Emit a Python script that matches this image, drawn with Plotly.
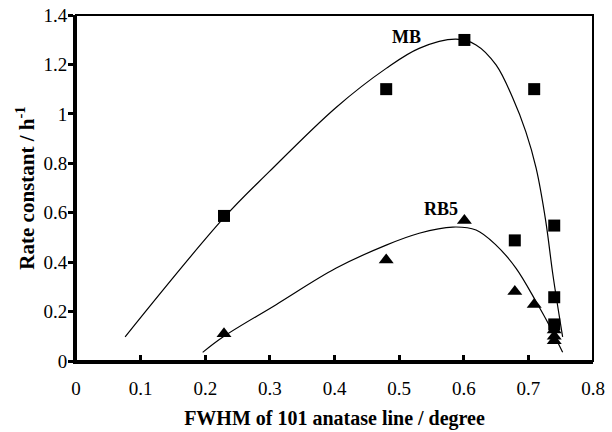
import plotly.graph_objects as go

# Measured data points
mb_x = [0.229, 0.480, 0.601, 0.709, 0.740, 0.679, 0.740, 0.740]
mb_y = [0.587, 1.100, 1.299, 1.100, 0.548, 0.488, 0.258, 0.148]

rb5_x = [0.229, 0.480, 0.601, 0.679, 0.709, 0.740, 0.740, 0.740]
rb5_y = [0.110, 0.409, 0.568, 0.281, 0.229, 0.125, 0.100, 0.082]

# Fitted curves
mb_fit_x = [0.076, 0.229, 0.299, 0.402, 0.480, 0.531, 0.588, 0.619, 0.650, 0.676, 0.696, 0.712, 0.727, 0.738, 0.753]
mb_fit_y = [0.098, 0.580, 0.766, 1.025, 1.184, 1.265, 1.302, 1.279, 1.198, 1.063, 0.928, 0.780, 0.564, 0.348, 0.098]

rb5_fit_x = [0.196, 0.229, 0.309, 0.402, 0.480, 0.531, 0.583, 0.619, 0.650, 0.681, 0.712, 0.732, 0.753]
rb5_fit_y = [0.035, 0.100, 0.227, 0.375, 0.469, 0.517, 0.542, 0.530, 0.469, 0.375, 0.240, 0.146, 0.035]

x_ticks = [0, 0.1, 0.2, 0.3, 0.4, 0.5, 0.6, 0.7, 0.8]
x_tick_labels = ["0", "0.1", "0.2", "0.3", "0.4", "0.5", "0.6", "0.7", "0.8"]
y_ticks = [0, 0.2, 0.4, 0.6, 0.8, 1.0, 1.2, 1.4]
y_tick_labels = ["0", "0.2", "0.4", "0.6", "0.8", "1", "1.2", "1.4"]

serif = "Liberation Serif"

fig = go.Figure()
fig.add_trace(go.Scatter(x=mb_fit_x, y=mb_fit_y, mode="lines",
                         line=dict(color="black", width=1.2, shape="spline", smoothing=1.0),
                         showlegend=False, hoverinfo="skip"))
fig.add_trace(go.Scatter(x=rb5_fit_x, y=rb5_fit_y, mode="lines",
                         line=dict(color="black", width=1.2, shape="spline", smoothing=1.0),
                         showlegend=False, hoverinfo="skip"))
fig.add_trace(go.Scatter(x=mb_x, y=mb_y, mode="markers", name="MB",
                         marker=dict(symbol="square", size=12, color="black"),
                         showlegend=False))
fig.add_trace(go.Scatter(x=rb5_x, y=rb5_y, mode="markers", name="RB5",
                         marker=dict(symbol="triangle-up", size=13, color="black"),
                         showlegend=False))

fig.add_annotation(x=0.511, y=1.31, text="<b>MB</b>", showarrow=False,
                   font=dict(family=serif, size=18, color="black"))
fig.add_annotation(x=0.565, y=0.615, text="<b>RB5</b>", showarrow=False,
                   font=dict(family=serif, size=18, color="black"))

# thin frame on top/right
fig.add_shape(type="rect", xref="paper", yref="paper", x0=0, y0=0, x1=1, y1=1,
              line=dict(color="black", width=2), layer="above")

fig.update_layout(
    width=612, height=432,
    margin=dict(l=76, r=19, t=15, b=71, autoexpand=False),
    paper_bgcolor="white", plot_bgcolor="white",
    font=dict(family=serif, color="black"),
    xaxis=dict(range=[0, 0.8], tickvals=x_ticks, ticktext=x_tick_labels,
               showgrid=False, zeroline=False, showline=True, linecolor="black", linewidth=3,
               ticks="inside", ticklen=6, tickwidth=2.5, tickcolor="black",
               ticklabelstandoff=8, automargin=False,
               tickfont=dict(family=serif, size=19),
               title=dict(text="<b>FWHM of 101 anatase line / degree</b>",
                          font=dict(family=serif, size=20), standoff=14)),
    yaxis=dict(range=[0, 1.4], tickvals=y_ticks, ticktext=y_tick_labels,
               showgrid=False, zeroline=False, showline=True, linecolor="black", linewidth=3,
               ticks="outside", ticklen=5, tickwidth=2.5, tickcolor="black",
               ticklabelstandoff=-3, automargin=False,
               tickfont=dict(family=serif, size=19),
               title=dict(text="<b>Rate constant / h<sup>-1</sup></b>",
                          font=dict(family=serif, size=21), standoff=4)),
)

fig.write_html("out.html")
